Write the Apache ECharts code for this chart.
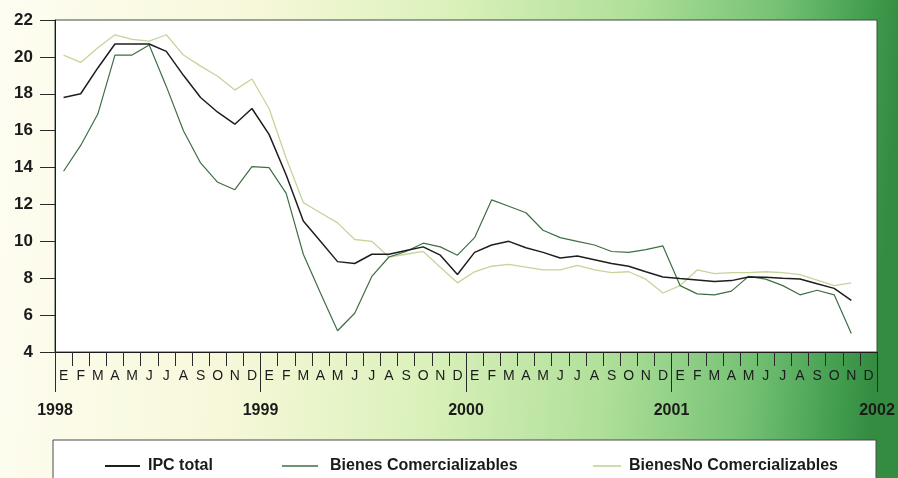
<!DOCTYPE html>
<html>
<head>
<meta charset="utf-8">
<script src="https://cdn.jsdelivr.net/npm/echarts@6/dist/echarts.min.js"></script>
<style>html,body{margin:0;padding:0;}#c{width:898px;height:478px;}</style>
</head>
<body>
<div id="c"></div>
<script>
// ---- data (annual variation, %) ----
const years = ['1998', '1999', '2000', '2001', '2002'];
const monthLetters = ['E', 'F', 'M', 'A', 'M', 'J', 'J', 'A', 'S', 'O', 'N', 'D'];
const yTicks = [4, 22, 2]; // min, max, step

const ipcTotal = [
  17.8, 18.0, 19.4, 20.7, 20.7, 20.7, 20.3, 19.0, 17.8, 17.0, 16.35, 17.2,
  15.8, 13.6, 11.1, 10.0, 8.9, 8.8, 9.3, 9.3, 9.5, 9.7, 9.25, 8.2,
  9.4, 9.8, 10.0, 9.65, 9.4, 9.1, 9.2, 9.0, 8.8, 8.65, 8.35, 8.07,
  7.98, 7.9, 7.82, 7.87, 8.07, 8.05, 8.0, 7.96, 7.7, 7.45, 6.8
];
const bienesComercializables = [
  13.8, 15.2, 16.9, 20.1, 20.1, 20.65, 18.4, 16.0, 14.25, 13.2, 12.8, 14.05,
  14.0, 12.6, 9.3, 7.2, 5.15, 6.1, 8.1, 9.15, 9.45, 9.9, 9.7, 9.25,
  10.2, 12.25, 11.9, 11.55, 10.6, 10.2, 10.0, 9.8, 9.45, 9.4, 9.55, 9.75,
  7.6, 7.15, 7.1, 7.3, 8.1, 7.95, 7.6, 7.1, 7.35, 7.1, 5.0
];
const bienesNoComercializables = [
  20.1, 19.7, 20.5, 21.2, 20.95, 20.85, 21.2, 20.1, 19.5, 18.95, 18.2, 18.8,
  17.2, 14.5, 12.1, 11.55, 11.0, 10.1, 10.0, 9.15, 9.3, 9.45, 8.6, 7.75,
  8.35, 8.65, 8.75, 8.6, 8.45, 8.45, 8.7, 8.45, 8.3, 8.35, 7.95, 7.2,
  7.6, 8.45, 8.25, 8.3, 8.3, 8.35, 8.3, 8.2, 7.9, 7.6, 7.75
];
const seriesNames = ['IPC total', 'Bienes Comercializables', 'BienesNo Comercializables'];

// ---- chart ----
const monthCats = [];
years.slice(0, 4).forEach(y => monthLetters.forEach((m, i) => monthCats.push(m + '|' + y + '|' + i)));

const FONT = "'Liberation Sans', Arial, sans-serif";
const TXT = '#1b1b1b';
const gridRect = { left: 55, right: 21, top: 20, bottom: 126 };
const legendText = (pad) => ({ fontFamily: FONT, fontWeight: 'bold', fontSize: 16, color: TXT, padding: [0, 0, 0, pad] });

const chart = echarts.init(document.getElementById('c'), null, { renderer: 'canvas' });
chart.setOption({
  animation: false,
  backgroundColor: new echarts.graphic.LinearGradient(0, 0, 1, 0.15, [
    { offset: 0, color: '#fefdf2' },
    { offset: 0.28, color: '#f7f8da' },
    { offset: 0.5, color: '#dbf1bb' },
    { offset: 0.7, color: '#b0e09a' },
    { offset: 0.86, color: '#76c275' },
    { offset: 0.96, color: '#439e50' },
    { offset: 1, color: '#348c40' }
  ]),
  grid: [
    Object.assign({ show: true, backgroundColor: '#ffffff', borderColor: '#3b4f3d', borderWidth: 1 }, gridRect),
    Object.assign({ show: false }, gridRect)
  ],
  graphic: [{
    type: 'rect', z: 1,
    shape: { x: 53, y: 440, width: 823, height: 60 },
    style: { fill: '#ffffff', stroke: '#4a4a4a', lineWidth: 1 }
  }],
  legend: [
    { data: [seriesNames[0]], left: 100, top: 453, icon: 'rect', itemWidth: 35, itemHeight: 2, z: 5,
      itemStyle: { color: '#1e1e1e' }, textStyle: legendText(3) },
    { data: [seriesNames[1]], left: 277, top: 453, icon: 'rect', itemWidth: 36, itemHeight: 1.5, z: 5,
      itemStyle: { color: '#3f6e45' }, textStyle: legendText(7) },
    { data: [seriesNames[2]], left: 588, top: 453, icon: 'rect', itemWidth: 28, itemHeight: 1.5, z: 5,
      itemStyle: { color: '#bfcf8e' }, textStyle: legendText(3) }
  ],
  xAxis: [
    {
      type: 'category', gridIndex: 0, data: monthCats, boundaryGap: true, position: 'bottom',
      axisLine: { show: true, lineStyle: { color: '#1b1b1b', width: 1 } },
      axisTick: { show: true, interval: 0, length: 14, lineStyle: { color: '#2a2a2a', width: 1 } },
      axisLabel: { interval: 0, margin: 17, fontFamily: FONT, fontSize: 14, color: TXT,
        formatter: v => v.split('|')[0] },
      splitLine: { show: false }
    },
    {
      type: 'value', gridIndex: 1, min: 0, max: 48, interval: 12, position: 'bottom',
      axisLine: { show: false },
      axisTick: { show: true, length: 40, lineStyle: { color: '#2a2a2a', width: 1 } },
      axisLabel: { margin: 51, fontFamily: FONT, fontWeight: 'bold', fontSize: 16, color: TXT,
        showMinLabel: true, showMaxLabel: true,
        formatter: v => years[Math.round(v / 12)] },
      splitLine: { show: false }
    }
  ],
  yAxis: [
    {
      type: 'value', gridIndex: 0, min: yTicks[0], max: yTicks[1], interval: yTicks[2],
      axisLine: { show: true, lineStyle: { color: '#1b1b1b', width: 1 } },
      axisTick: { show: true, length: 15, lineStyle: { color: '#2a2a2a', width: 1 } },
      axisLabel: { margin: 22, fontFamily: FONT, fontWeight: 'bold', fontSize: 17, color: TXT },
      splitLine: { show: false }
    },
    { type: 'value', gridIndex: 1, min: 0, max: 1, show: false }
  ],
  series: [
    { name: seriesNames[0], type: 'line', xAxisIndex: 0, yAxisIndex: 0, data: ipcTotal,
      symbol: 'none', z: 4, color: '#1e1e1e', lineStyle: { color: '#1e1e1e', width: 1.5 } },
    { name: seriesNames[1], type: 'line', xAxisIndex: 0, yAxisIndex: 0, data: bienesComercializables,
      symbol: 'none', z: 3, color: '#3f6e45', lineStyle: { color: '#3f6e45', width: 1.2 } },
    { name: seriesNames[2], type: 'line', xAxisIndex: 0, yAxisIndex: 0, data: bienesNoComercializables,
      symbol: 'none', z: 2, color: '#c6d49a', lineStyle: { color: '#c6d49a', width: 1.3 } }
  ]
});
</script>
</body>
</html>
